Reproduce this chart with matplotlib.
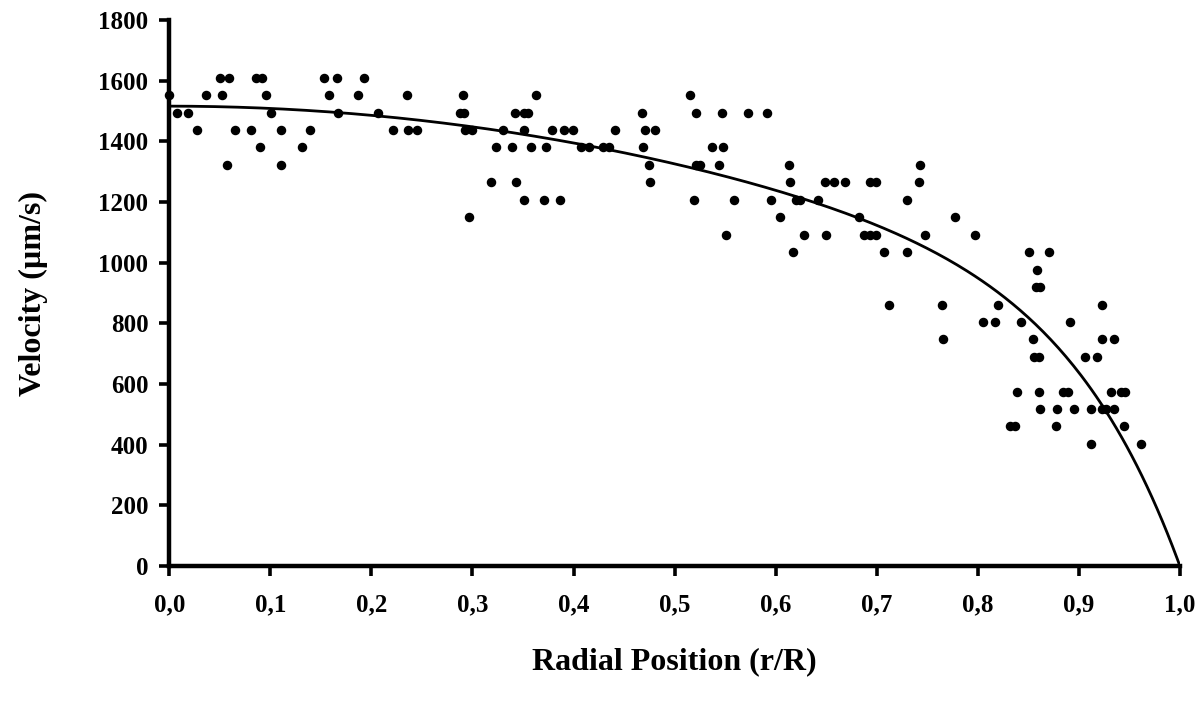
import numpy as np
import matplotlib.pyplot as plt

# measured points: radial position r/R and velocity (um/s)
r_pos = [0.000, 0.008, 0.019, 0.027, 0.036, 0.050, 0.059, 0.052, 0.057, 0.065,
         0.081, 0.086, 0.092, 0.090, 0.096, 0.101, 0.111, 0.111, 0.131, 0.139,
         0.153, 0.158, 0.166, 0.167, 0.187, 0.193, 0.207, 0.221, 0.235, 0.236,
         0.245,
         0.291, 0.288, 0.292, 0.293, 0.300, 0.297, 0.318, 0.323, 0.330, 0.339,
         0.343, 0.342, 0.351, 0.355, 0.351, 0.351, 0.358, 0.363, 0.373, 0.371,
         0.379, 0.387, 0.391, 0.399, 0.407, 0.415, 0.429, 0.435, 0.441, 0.468,
         0.469, 0.471, 0.481, 0.475, 0.476, 0.515, 0.521, 0.519, 0.521, 0.525,
         0.537, 0.548, 0.544, 0.547, 0.559, 0.551, 0.573, 0.591,
         0.595, 0.604, 0.613, 0.614, 0.617, 0.620, 0.624, 0.628, 0.642, 0.649,
         0.658, 0.650, 0.669, 0.682, 0.687, 0.693, 0.699, 0.693, 0.699, 0.707,
         0.712, 0.730, 0.730, 0.743, 0.742, 0.748, 0.765, 0.766, 0.777, 0.797,
         0.805,
         0.817, 0.820, 0.851, 0.870, 0.859, 0.858, 0.862, 0.923, 0.843, 0.891,
         0.855, 0.923, 0.935, 0.856, 0.861, 0.906, 0.918, 0.839, 0.861, 0.884,
         0.889, 0.932, 0.942, 0.946, 0.862, 0.878, 0.895, 0.912, 0.923, 0.927,
         0.935, 0.832, 0.837, 0.877, 0.945, 0.912, 0.961]
velocity = [1552, 1495, 1495, 1437, 1552, 1610, 1610, 1552, 1322, 1437,
            1437, 1610, 1610, 1380, 1552, 1495, 1437, 1322, 1380, 1437,
            1610, 1552, 1610, 1495, 1552, 1610, 1495, 1437, 1552, 1437,
            1437,
            1552, 1495, 1495, 1437, 1437, 1150, 1265, 1380, 1437, 1380,
            1265, 1495, 1495, 1495, 1437, 1207, 1380, 1552, 1380, 1207,
            1437, 1207, 1437, 1437, 1380, 1380, 1380, 1380, 1437, 1495,
            1380, 1437, 1437, 1322, 1265, 1552, 1495, 1207, 1322, 1322,
            1380, 1380, 1322, 1495, 1207, 1092, 1495, 1495,
            1207, 1150, 1322, 1265, 1035, 1207, 1207, 1092, 1207, 1265,
            1265, 1092, 1265, 1150, 1092, 1092, 1092, 1265, 1265, 1035,
            862, 1207, 1035, 1322, 1265, 1092, 862, 747, 1150, 1092,
            805,
            805, 862, 1035, 1035, 977, 920, 920, 862, 805, 805,
            747, 747, 747, 690, 690, 690, 690, 575, 575, 575,
            575, 575, 575, 575, 517, 517, 517, 517, 517, 517,
            517, 460, 460, 460, 460, 402, 402]

# fitted profile, parameters
v_center = 1516
weight = 0.5
exp_a = 2
exp_b = 10

plt.rcParams['font.family'] = ['Liberation Serif', 'DejaVu Serif']
plt.rcParams['font.weight'] = 'bold'

fig = plt.figure(figsize=(12.04, 7.04), dpi=100)
ax = fig.add_axes([0.1406, 0.196, 0.8394, 0.7756])

xfit = np.linspace(0, 1, 400)
vfit = v_center * (weight * (1 - xfit ** exp_a) + (1 - weight) * (1 - xfit ** exp_b))
ax.plot(xfit, vfit, color='black', lw=2, zorder=2)
ax.scatter(r_pos, velocity, s=34, color='black', zorder=3, clip_on=False)

ax.set_xlim(0, 1)
ax.set_ylim(0, 1800)
ax.set_xticks(np.arange(0, 1.01, 0.1))
ax.set_xticklabels([('%.1f' % t).replace('.', ',') for t in np.arange(0, 1.01, 0.1)])
ax.set_yticks(range(0, 1801, 200))

for s in ['top', 'right']:
    ax.spines[s].set_visible(False)
for s in ['left', 'bottom']:
    ax.spines[s].set_linewidth(3.2)
ax.tick_params(direction='out', length=7, width=2.6, labelsize=18)
ax.tick_params(axis='x', pad=13)
ax.tick_params(axis='y', pad=8)

ax.set_xlabel('Radial Position (r/R)', fontsize=23, fontweight='bold', labelpad=22)
ax.set_ylabel('Velocity (\u00b5m/s)', fontsize=23, fontweight='bold', labelpad=36)

plt.savefig('out.png', dpi=100)
